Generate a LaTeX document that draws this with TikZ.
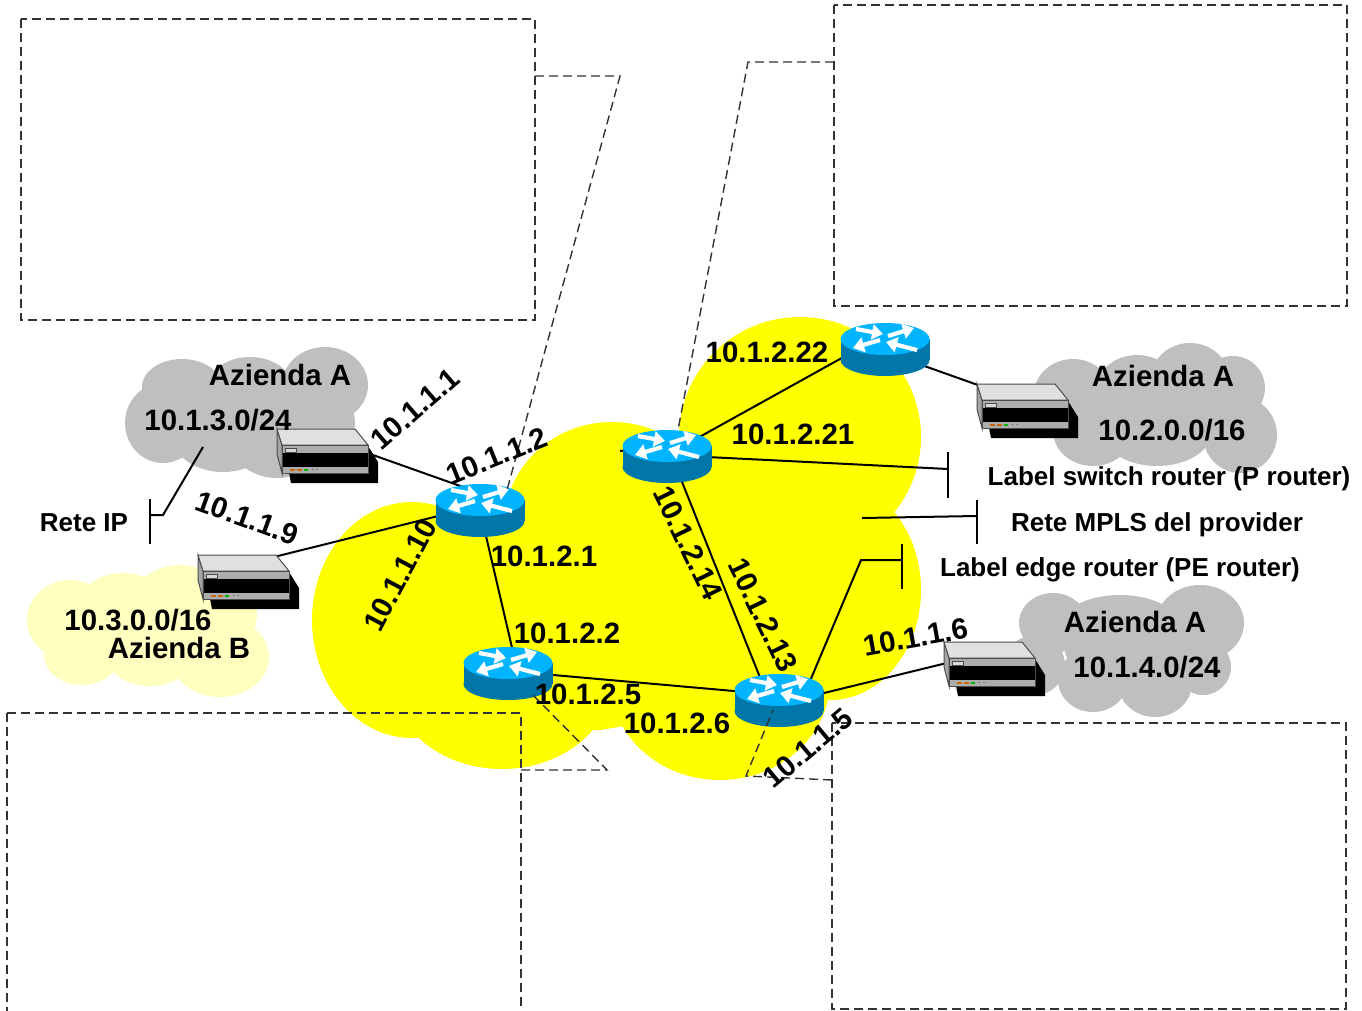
\documentclass[tikz,border=0pt]{standalone}
\usepackage{fontspec}
\setmainfont{Liberation Sans}
\usetikzlibrary{arrows.meta}
\definecolor{rtop}{HTML}{00B4FF}
\definecolor{rside}{HTML}{0077A8}
\definecolor{cloudgray}{HTML}{BFBFBF}
\definecolor{cloudpale}{HTML}{FFFFC0}
\definecolor{cloudyellow}{HTML}{FFFF00}
\definecolor{dashgray}{HTML}{333333}
\tikzset{
  big/.style={font=\fontsize{29.4}{30}\selectfont\bfseries,inner sep=0pt,text=black},
  small/.style={font=\fontsize{26}{27}\selectfont\bfseries,inner sep=0pt,text=black},
  wire/.style={line width=2pt,black},
  box/.style={draw=dashgray,line width=1.4pt,dash pattern=on 9pt off 5pt},
  rarrow/.style={white,line width=4.2pt,-{Triangle[length=11pt,width=15pt]}},
  routerpic/.pic={
    \fill[rside] (-44.5,0) rectangle (44.5,21);
    \fill[rside] (0,21) ellipse[x radius=44.5,y radius=16];
    \fill[rtop] (0,0) ellipse[x radius=44.5,y radius=16];
    \draw[rarrow] (-29,-10) -- (-2,-5);
    \draw[rarrow] (3,-3) -- (29,-11);
    \draw[rarrow] (-5,1) -- (-32,9);
    \draw[rarrow] (32,11) -- (1,3);
  },
  serverpic/.pic={
    \fill[black] (12,44) -- (91,44) -- (91,17) -- (101,33) -- (101,54) -- (14,54) -- cycle;
    \filldraw[fill=gray!70,draw=black!70,line width=1pt] (0,0) -- (5,16) -- (5,44) -- (0,25) -- cycle;
    \filldraw[fill=black!12,draw=black!70,line width=1pt] (0,0) -- (78,0) -- (91,16) -- (5,16) -- cycle;
    \filldraw[fill=black!32,draw=black!70,line width=1pt] (5,16) rectangle (91,44);
    \fill[black] (6,24) rectangle (91,38);
    \draw[black!70,fill=black!15,line width=.7pt] (8,19) rectangle (19,23.5);
    \fill[orange!80!black] (13,39.5) rectangle (18,42);
    \fill[orange!80!black] (20,39.5) rectangle (25,42);
    \fill[green!70!black] (27,39.5) rectangle (31,42);
    \fill[black!70] (35,40) rectangle (36,41);
    \fill[black!50] (39,40) rectangle (41,41);
  }
}
\begin{document}
\begin{tikzpicture}[x=1pt,y=-1pt]
\useasboundingbox (0,0) rectangle (1362,1011);
% clouds
\fill[cloudgray] (182,387) ellipse[x radius=40,y radius=28];
\fill[cloudgray] (250,387) ellipse[x radius=42,y radius=30];
\fill[cloudgray] (325,385) ellipse[x radius=43,y radius=38];
\fill[cloudgray] (163,423) ellipse[x radius=38,y radius=40];
\fill[cloudgray] (223,437) ellipse[x radius=50,y radius=35];
\fill[cloudgray] (277,443) ellipse[x radius=45,y radius=35];
\fill[cloudgray] (320,423) ellipse[x radius=35,y radius=35];
\fill[cloudgray] (250,410) ellipse[x radius=70,y radius=35];
\fill[cloudgray] (1073,397) ellipse[x radius=40,y radius=38];
\fill[cloudgray] (1190,381) ellipse[x radius=40,y radius=38];
\fill[cloudgray] (1233,388) ellipse[x radius=32,y radius=32];
\fill[cloudgray] (1240,435) ellipse[x radius=37,y radius=38];
\fill[cloudgray] (1093,431) ellipse[x radius=40,y radius=35];
\fill[cloudgray] (1157,431) ellipse[x radius=55,y radius=35];
\fill[cloudgray] (1137,388) ellipse[x radius=40,y radius=33];
\fill[cloudgray] (1150,405) ellipse[x radius=70,y radius=40];
\fill[cloudgray] (1053,623) ellipse[x radius=34,y radius=30];
\fill[cloudgray] (1200,623) ellipse[x radius=44,y radius=38];
\fill[cloudgray] (1120,627) ellipse[x radius=60,y radius=32];
\fill[cloudgray] (1203,667) ellipse[x radius=28,y radius=28];
\fill[cloudgray] (1155,683) ellipse[x radius=37,y radius=34];
\fill[cloudgray] (1093,680) ellipse[x radius=35,y radius=32];
\fill[cloudgray] (1035,665) ellipse[x radius=30,y radius=30];
\fill[cloudgray] (1135,650) ellipse[x radius=70,y radius=35];
\fill[cloudpale] (70,620) ellipse[x radius=43,y radius=40];
\fill[cloudpale] (123,607) ellipse[x radius=45,y radius=34];
\fill[cloudpale] (180,607) ellipse[x radius=50,y radius=42];
\fill[cloudpale] (227,613) ellipse[x radius=30,y radius=40];
\fill[cloudpale] (82,655) ellipse[x radius=38,y radius=30];
\fill[cloudpale] (150,653) ellipse[x radius=45,y radius=33];
\fill[cloudpale] (220,657) ellipse[x radius=49,y radius=40];
\fill[cloudpale] (150,630) ellipse[x radius=70,y radius=35];
\fill[cloudyellow] (412,620) ellipse[x radius=100,y radius=118];
\fill[cloudyellow] (502,679) ellipse[x radius=110,y radius=90];
\fill[cloudyellow] (720,680) ellipse[x radius=110,y radius=100];
\fill[cloudyellow] (612,525) ellipse[x radius=108,y radius=103];
\fill[cloudyellow] (800,437) ellipse[x radius=121,y radius=120];
\fill[cloudyellow] (830,590) ellipse[x radius=91,y radius=110];
\fill[cloudyellow] (450,510) -- (620,480) -- (800,480) -- (880,520) -- (840,690) -- (600,730) -- (450,730) -- cycle;
% anchors
\coordinate (r1a) at (480,493);
\coordinate (r1b) at (480,505.6);
\coordinate (r1c) at (477.6,500);
\coordinate (r2a) at (667,455);
\coordinate (r2b) at (667.7,446);
\coordinate (r3a) at (885,334);
\coordinate (r3b) at (885,352);
\coordinate (r4a) at (515.6,663);
\coordinate (r4b) at (508,671);
\coordinate (r5a) at (765,690);
\coordinate (r5b) at (779,695);
\coordinate (r5c) at (779,704);
\coordinate (r5d) at (802,700);
\coordinate (s1) at (325,438);
\coordinate (s2) at (250,563);
\coordinate (s3) at (1020,400);
\coordinate (s4) at (1000,650);
\coordinate (lsr) at (948,469);
\coordinate (mpls) at (977,516);
\coordinate (mplsfree) at (862,518);
\coordinate (pebar) at (902,560);
\coordinate (pebend) at (861,560);
\coordinate (ipbar) at (150,515);
\coordinate (ipbend) at (163,515);
\coordinate (ipfree) at (203,447);
\coordinate (tick) at (620,451);
% wires
\draw[wire] (s1) -- (r1a);
\draw[wire] (s2) -- (r1b);
\draw[wire] (r1c) -- (r4a);
\draw[wire] (r4b) -- (r5b);
\draw[wire] (r2b) -- (r5a);
\draw[wire] (r2a) -- (r3a);
\draw[wire] (r3b) -- (s3);
\draw[wire] (r5c) -- (s4);
\draw[wire] (r2a) -- (lsr);
\draw[wire] (tick) -- (r2b);
\draw[wire] (mplsfree) -- (mpls);
\draw[wire] (r5d) -- (pebend) -- (pebar);
\draw[wire] (ipfree) -- (ipbend) -- (ipbar);
\draw[wire] (lsr) ++(0,-17) -- ++(0,46);
\draw[wire] (mpls) ++(0,-16) -- ++(0,44);
\draw[wire] (pebar) ++(0,-16) -- ++(0,45);
\draw[wire] (ipbar) ++(0,-16) -- ++(0,45);
% devices
\pic at (480,500) {routerpic};
\pic at (667,446) {routerpic};
\pic at (885,339) {routerpic};
\pic at (508,663) {routerpic};
\pic at (779,690) {routerpic};
\pic at (277,429) {serverpic};
\pic at (198,555) {serverpic};
\pic at (977,384) {serverpic};
\pic at (944,642) {serverpic};
% dashed boxes
\coordinate (tla) at (21,19);
\coordinate (tlb) at (535,320);
\coordinate (tra) at (834,5);
\coordinate (trb) at (1347,306);
\draw[box] (tla) rectangle (tlb);
\draw[box] (tra) rectangle (trb);
\coordinate (bltl) at (7,713);
\coordinate (bltr) at (521,713);
\coordinate (blbr) at (521,1011);
\coordinate (blbl) at (7,1011);
\draw[box] (bltl) -- (blbl);
\draw[box] (bltl) -- (bltr) -- (blbr);
\coordinate (brtl) at (832,723);
\coordinate (brbr) at (1346,1009);
\draw[box] (brtl) rectangle (brbr);
% callouts
\coordinate (c1s) at (535,76);
\coordinate (c1) at (620,76);
\coordinate (c1e) at (507,490);
\coordinate (c2s) at (834,62);
\coordinate (c2) at (748,62);
\coordinate (c2e) at (678,430);
\coordinate (c3s) at (521,770);
\coordinate (c3) at (607,770);
\coordinate (c3e) at (533,695);
\coordinate (c4s) at (832,780);
\coordinate (c4) at (746,776);
\coordinate (c4e) at (773,710);
\draw[box] (c1s) -- (c1) -- (c1e);
\draw[box] (c2s) -- (c2) -- (c2e);
\draw[box] (c3s) -- (c3) -- (c3e);
\draw[box] (c4s) -- (c4) -- (c4e);
% labels
\node[big] (t1) at (280,375) {Azienda A};
\node[big] (t2) at (218,420) {10.1.3.0/24};
\node[big] (t3) at (1163,376) {Azienda A};
\node[big] (t4) at (1172,430) {10.2.0.0/16};
\node[big] (t5) at (1135,622) {Azienda A};
\node[big] (t6) at (1147,667) {10.1.4.0/24};
\node[big] (t7) at (138,620) {10.3.0.0/16};
\node[big] (t8) at (179,648) {Azienda B};
\node[small] (t9) at (84,523) {Rete IP};
\node[small] (t10) at (1169,479) {Label switch router (P router)};
\node[small] (t11) at (1157,525) {Rete MPLS del provider};
\node[small] (t12) at (1120,570) {Label edge router (PE router)};
\node[big,rotate=41] (a1) at (415,409) {10.1.1.1};
\node[big,rotate=22] (a2) at (497,456) {10.1.1.2};
\node[big,rotate=-20] (a3) at (247,518) {10.1.1.9};
\node[big,rotate=62] (a4) at (400,575) {10.1.1.10};
\node[big] (a5) at (544,556) {10.1.2.1};
\node[big] (a6) at (567,633) {10.1.2.2};
\node[big] (a7) at (588,694) {10.1.2.5};
\node[big] (a8) at (677,723) {10.1.2.6};
\node[big] (a9) at (767,352) {10.1.2.22};
\node[big] (a10) at (793,434) {10.1.2.21};
\node[big,rotate=-64] (a11) at (688,543) {10.1.2.14};
\node[big,rotate=-64] (a12) at (763,615) {10.1.2.13};
\node[big,rotate=40] (a13) at (808,748) {10.1.1.5};
\node[big,rotate=10] (a14) at (916,637) {10.1.1.6};
\end{tikzpicture}
\end{document}
